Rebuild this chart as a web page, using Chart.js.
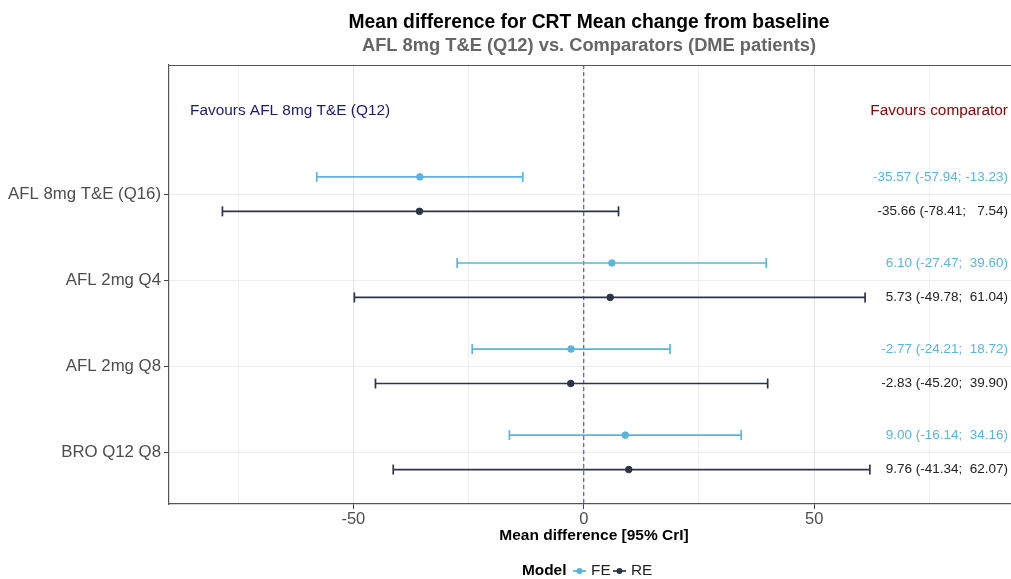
<!DOCTYPE html>
<html>
<head>
<meta charset="utf-8">
<script src="https://cdn.jsdelivr.net/npm/chart.js@4.4.1/dist/chart.umd.min.js"></script>
<style>
  html, body { margin: 0; padding: 0; background: #fff; overflow: hidden; }
  #wrap { width: 1011px; height: 579px; position: relative; }
</style>
</head>
<body>
<div id="wrap"><canvas id="forest"></canvas></div>
<script>
// values
const categories = ['AFL 8mg T&E (Q16)', 'AFL 2mg Q4', 'AFL 2mg Q8', 'BRO Q12 Q8'];
const feMean = [-35.57, 6.10, -2.77, 9.00];
const feLow  = [-57.94, -27.47, -24.21, -16.14];
const feHigh = [-13.23, 39.60, 18.72, 34.16];
const reMean = [-35.66, 5.73, -2.83, 9.76];
const reLow  = [-78.41, -49.78, -45.20, -41.34];
const reHigh = [7.54, 61.04, 39.90, 62.07];
const xTicks = [-75, -50, -25, 0, 25, 50, 75];
const xLabelTicks = [-50, 0, 50];

const FE_COLOR = '#5ab4dc';
const RE_COLOR = '#2c3447';
const FONT = '"Liberation Sans", Arial, sans-serif';
const OFFSET = 0.2; // FE above, RE below the category line

const fmt = v => v.toFixed(2).padStart(6, ' ');
const label = (m, l, h) => `${m.toFixed(2)} (${fmt(l)}; ${fmt(h)})`;

function intervalSets(mean, low, high, color, sign) {
  const sets = [];
  mean.forEach((m, i) => {
    const y = i + 1 + sign * OFFSET;
    sets.push({
      type: 'scatter', showLine: true,
      data: [{ x: low[i], y }, { x: high[i], y }],
      borderColor: color, borderWidth: 1.7,
      pointStyle: 'line', rotation: 90, pointRadius: 5, pointBorderWidth: 1.7,
      pointBorderColor: color, pointHoverRadius: 5, order: 2
    });
  });
  sets.push({
    type: 'scatter',
    data: mean.map((m, i) => ({ x: m, y: i + 1 + sign * OFFSET })),
    backgroundColor: color, borderColor: color, pointRadius: 3.3, order: 1
  });
  return sets;
}

const datasets = [
  {
    type: 'scatter', showLine: true,
    data: [{ x: 0, y: -0.5 }, { x: 0, y: 4.6 }],
    borderColor: '#3f3f98', borderWidth: 1, borderDash: [4, 3], pointRadius: 0, order: 10
  },
  ...intervalSets(feMean, feLow, feHigh, FE_COLOR, -1),
  ...intervalSets(reMean, reLow, reHigh, RE_COLOR, 1)
];

const decor = {
  id: 'decor',
  afterDraw(chart) {
    const { ctx, chartArea: a, scales: { x, y } } = chart;
    ctx.save();
    // top border of panel
    ctx.strokeStyle = '#555';
    ctx.lineWidth = 1.2;
    ctx.beginPath();
    ctx.moveTo(a.left, a.top + 0.5);
    ctx.lineTo(a.right, a.top + 0.5);
    ctx.stroke();

    ctx.textAlign = 'center';
    ctx.textBaseline = 'middle';
    ctx.fillStyle = '#000';
    ctx.font = `bold 19.3px ${FONT}`;
    ctx.fillText('Mean difference for CRT Mean change from baseline', 589, 23);
    ctx.fillStyle = '#666';
    ctx.font = `bold 18.3px ${FONT}`;
    ctx.fillText('AFL 8mg T&E (Q12) vs. Comparators (DME patients)', 589, 46);

    ctx.fillStyle = '#000';
    ctx.font = `bold 15.5px ${FONT}`;
    ctx.fillText('Mean difference [95% CrI]', 594, 536);

    // favours annotations
    const fy = y.getPixelForValue(0.03);
    ctx.font = `15.4px ${FONT}`;
    ctx.textAlign = 'left';
    ctx.fillStyle = '#1a1a70';
    ctx.fillText('Favours AFL 8mg T&E (Q12)', a.left + 21, fy);
    ctx.textAlign = 'right';
    ctx.fillStyle = '#8b0000';
    ctx.fillText('Favours comparator', a.right - 3, fy);

    // estimate labels
    ctx.font = `13.5px ${FONT}`;
    categories.forEach((c, i) => {
      ctx.fillStyle = FE_COLOR;
      ctx.fillText(label(feMean[i], feLow[i], feHigh[i]), a.right - 3, y.getPixelForValue(i + 1 - OFFSET));
      ctx.fillStyle = '#222';
      ctx.fillText(label(reMean[i], reLow[i], reHigh[i]), a.right - 3, y.getPixelForValue(i + 1 + OFFSET));
    });

    // legend
    const ly = 571;
    ctx.textAlign = 'left';
    ctx.fillStyle = '#000';
    ctx.font = `bold 15.4px ${FONT}`;
    ctx.fillText('Model', 522, ly);
    ctx.font = `15.4px ${FONT}`;
    [[FE_COLOR, 'FE', 573], [RE_COLOR, 'RE', 613]].forEach(([col, txt, lx]) => {
      ctx.strokeStyle = col;
      ctx.fillStyle = col;
      ctx.lineWidth = 1.7;
      ctx.beginPath();
      ctx.moveTo(lx, ly);
      ctx.lineTo(lx + 13, ly);
      ctx.stroke();
      ctx.beginPath();
      ctx.arc(lx + 6.5, ly, 3, 0, Math.PI * 2);
      ctx.fill();
      ctx.fillStyle = '#222';
      ctx.fillText(txt, lx + 18, ly);
    });
    ctx.restore();
  }
};

new Chart(document.getElementById('forest'), {
  type: 'scatter',
  data: { datasets },
  options: {
    responsive: true,
    maintainAspectRatio: false,
    animation: false,
    layout: { autoPadding: false, padding: { top: 65, right: 0, left: 0, bottom: 0 } },
    plugins: { legend: { display: false }, tooltip: { enabled: false } },
    scales: {
      x: {
        type: 'linear', min: -90, max: 92.7,
        afterBuildTicks: s => { s.ticks = xTicks.map(v => ({ value: v })); },
        afterFit: s => { s.height = 75; s.paddingLeft = 0; s.paddingRight = 0; },
        ticks: {
          color: '#4d4d4d', font: { family: FONT, size: 16.5 }, padding: 1, maxRotation: 0,
          callback: v => xLabelTicks.includes(v) ? String(v) : ''
        },
        grid: {
          color: c => (c.tick && xLabelTicks.includes(c.tick.value)) ? '#e4e4e4' : '#f1f1f1',
          tickColor: c => (c.tick && xLabelTicks.includes(c.tick.value)) ? '#444' : 'rgba(0,0,0,0)',
          tickLength: 5, lineWidth: 1
        },
        border: { display: true, color: '#555', width: 1.2 }
      },
      y: {
        type: 'linear', reverse: true, min: -0.5, max: 4.6,
        afterBuildTicks: s => { s.ticks = categories.map((c, i) => ({ value: i + 1 })); },
        afterFit: s => { s.width = 169; s.paddingTop = 0; s.paddingBottom = 0; },
        ticks: {
          color: '#4d4d4d', font: { family: FONT, size: 16.8 }, padding: 3,
          callback: v => categories[v - 1] || ''
        },
        grid: { color: '#ececec', tickColor: '#444', tickLength: 5, lineWidth: 1 },
        border: { display: true, color: '#555', width: 1.2 }
      }
    }
  },
  plugins: [decor]
});
</script>
</body>
</html>
